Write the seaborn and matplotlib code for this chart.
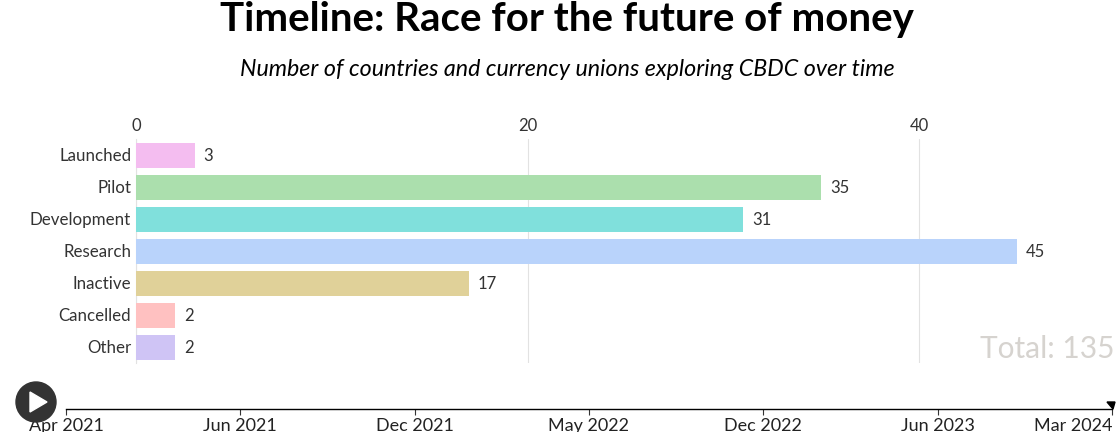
import numpy as np
import matplotlib
matplotlib.use('Agg')
import matplotlib.pyplot as plt
import seaborn as sns
import pandas as pd
from matplotlib.patches import Circle, Polygon
from matplotlib.transforms import ScaledTranslation

statuses = ['Launched', 'Pilot', 'Development', 'Research', 'Inactive', 'Cancelled', 'Other']
counts = [3, 35, 31, 45, 17, 2, 2]
bar_colors = ['#f4bdf0', '#abdfad', '#80e0dc', '#b9d3fb', '#e0d199', '#ffc1c1', '#cfc4f5']
x_ticks = [0, 20, 40]
timeline_labels = ['Apr 2021', 'Jun 2021', 'Dec 2021', 'May 2022', 'Dec 2022', 'Jun 2023', 'Mar 2024']

W, H = 1119, 432

sns.set_theme(style='white')
plt.rcParams['font.family'] = ['Lato', 'DejaVu Sans']

def px_axes(fig, left, top, right, bottom):
    return fig.add_axes([left / W, 1 - bottom / H, (right - left) / W, (bottom - top) / H])

fig = plt.figure(figsize=(W / 100, H / 100), dpi=100)

# bars
ax = px_axes(fig, 136, 139, 1119, 363)
df = pd.DataFrame({'status': statuses, 'count': counts})
sns.barplot(data=df, x='count', y='status', hue='status', palette=bar_colors, order=statuses,
            hue_order=statuses, saturation=1, width=0.78, legend=False, ax=ax, zorder=3, linewidth=0)
ax.set_xlim(0, (1119 - 136) / 19.575)
ax.set_ylim(6.484, -0.516)
ax.set_xlabel('')
ax.set_ylabel('')
ax.xaxis.tick_top()
ax.set_xticks(x_ticks)
ax.tick_params(axis='x', length=0, pad=3.5, labelsize=12, labelcolor='#333333')
ax.tick_params(axis='y', length=0, pad=3.5, labelsize=12.2, labelcolor='#333333')
up = ScaledTranslation(0, 1 / 100, fig.dpi_scale_trans)
for lab in ax.get_yticklabels():
    lab.set_verticalalignment('center_baseline')
    lab.set_transform(lab.get_transform() + up)
ax.grid(axis='x', color='#e2e2e2', linewidth=0.8, zorder=0)
ax.grid(axis='y', visible=False)
for s in ['top', 'right', 'bottom']:
    ax.spines[s].set_visible(False)
ax.spines['left'].set_color('#e2e2e2')
ax.spines['left'].set_linewidth(0.8)
ax.patch.set_alpha(0)

for i, v in enumerate(counts):
    ax.annotate(str(v), (v, i), xytext=(9, 1), textcoords='offset pixels',
                va='center_baseline', ha='left', fontsize=12, color='#333333')

# full figure overlay in pixels
ov = fig.add_axes([0, 0, 1, 1], zorder=5)
ov.set_xlim(0, W)
ov.set_ylim(H, 0)
ov.axis('off')
ov.text(567, 19, 'Timeline: Race for the future of money', ha='center', va='center',
        fontsize=29, fontweight='bold', color='black')
ov.text(567, 70, 'Number of countries and currency unions exploring CBDC over time', ha='center',
        va='center', fontsize=16.75, fontstyle='italic', color='black')
ov.text(1114, 349, 'Total: 135', ha='right', va='center', fontsize=21.5, color='#d6d3cf')

# timeline
tl = px_axes(fig, 66, 400, 1112, 409)
tl.set_xlim(0, len(timeline_labels) - 1)
tl.set_ylim(0, 1)
tl.patch.set_alpha(0)
for s in ['top', 'left', 'right']:
    tl.spines[s].set_visible(False)
tl.spines['bottom'].set_color('black')
tl.spines['bottom'].set_linewidth(1)
tl.set_yticks([])
tl.set_xticks(range(len(timeline_labels)))
tl.set_xticklabels(timeline_labels)
tl.tick_params(axis='x', bottom=True, length=4, width=0.8, color='#333333', pad=2.5, labelsize=13, labelcolor='#222222')
tl.get_xticklabels()[-1].set_horizontalalignment('right')
tl.grid(False)
tl.set_zorder(4)

# play button and end handle
ov.add_patch(Circle((36, 402), 20, color='#333333', zorder=6))
ov.add_patch(Polygon([[30, 392], [30, 412], [47, 402]], closed=True, color='white', zorder=7))
ov.add_patch(Polygon([[1107, 402], [1115, 402], [1113, 409]], closed=True, color='black', zorder=7))

fig.savefig('out.png', dpi=100)
